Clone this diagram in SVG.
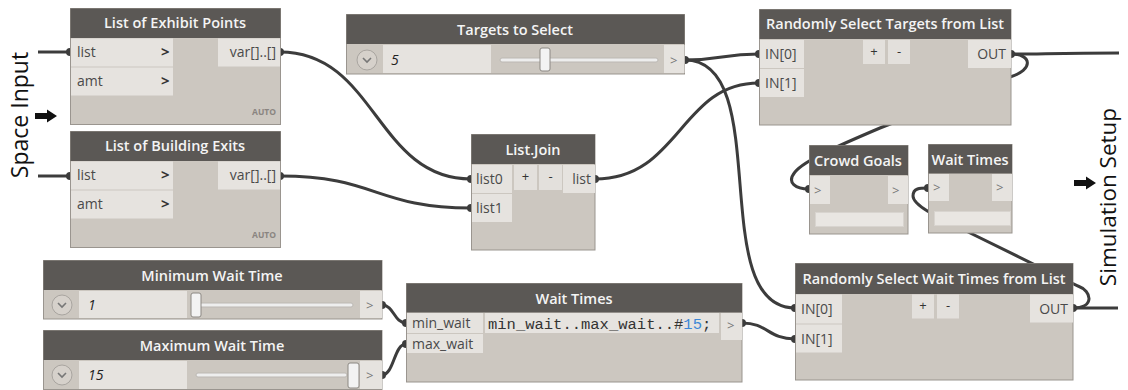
<svg xmlns="http://www.w3.org/2000/svg" width="1128" height="390" viewBox="0 0 1128 390">
<style>
.body{fill:#ccc7c0;stroke:#9a958f;stroke-width:1}
.hdr{fill:#5b5855}
.ttl{font-family:"Open Sans",sans-serif;font-weight:600;font-size:14.5px;fill:#f4f4f4;text-anchor:middle}
.port{fill:#e6e3df}
.pt{font-family:"Open Sans",sans-serif;font-size:14px;fill:#4a4a4a}
.end{text-anchor:end}
.chev{font-family:"Open Sans",sans-serif;font-weight:700;font-size:15px;fill:#333}
.gt{font-family:"Open Sans",sans-serif;font-size:13px;fill:#777}
.btn{fill:#e3e0dc}
.bt{font-family:"Open Sans",sans-serif;font-size:13px;fill:#333;text-anchor:middle}
.auto{font-family:"Open Sans",sans-serif;font-weight:700;font-size:8.5px;fill:#8a8580;text-anchor:end}
.val{font-family:"Open Sans",sans-serif;font-style:italic;font-size:14px;fill:#222}
.dd{fill:#d6d1cb;stroke:#a9a5a0;stroke-width:1}
.ddv{fill:none;stroke:#777;stroke-width:1.6}
.track{fill:#eeeeee;stroke:#bcb8b3;stroke-width:1}
.thumb{fill:#f3f3f3;stroke:#8c8883;stroke-width:1}
.disp{fill:#e9e6e2;stroke:#d8d4cf;stroke-width:1}
.wire{fill:none;stroke:#3c3c3c;stroke-width:3}
.dot{fill:#3c3c3c}
.side{font-family:"Open Sans",sans-serif;font-size:23px;fill:#111;text-anchor:middle}
.code{font-family:"Liberation Mono",monospace;font-size:15.5px;fill:#333}
</style>

<g id="connectors">
  <path class="wire" d="M38,52 L70,52"/>
  <path class="wire" d="M38,176 L70,176"/>
  <path class="wire" d="M280,52 C376,52 376,179 471,179"/>
  <path class="wire" d="M280,176 C376,176 376,208 471,208"/>
  <path class="wire" d="M595,179 C680,179 680,83 759,83"/>
  <path class="wire" d="M685,60 C722,60 722,54 759,54"/>
  <path class="wire" d="M685,60 C775,60 705,308 795,308"/>
  <path class="wire" d="M382,305 C394,305 394,323 406,323"/>
  <path class="wire" d="M382,375 C394,375 394,344 406,344"/>
  <path class="wire" d="M742,323 C768,323 768,339 795,339"/>
  <path class="wire" d="M1011,54 C1040,54 1060,53 1119,53"/>
  <path class="wire" d="M1011,54 C1032,54 1034,70 1010,77 L880,128 C840,145 805,160 795,172 C786,183 796,189 809,189"/>
  <path class="wire" d="M1073,308 C1095,308 1092,291 1078,286 L962,229 C935,216 913,205 913,196 C913,188 920,188 928,188"/>
  <path class="wire" d="M1073,308 L1118,308"/>
  <g class="dot">
    <circle cx="70" cy="52" r="4"/><circle cx="70" cy="176" r="4"/>
    <circle cx="280" cy="52" r="4"/><circle cx="280" cy="176" r="4"/>
    <circle cx="471" cy="179" r="4"/><circle cx="471" cy="208" r="4"/>
    <circle cx="595" cy="179" r="4"/><circle cx="685" cy="60" r="4"/>
    <circle cx="759" cy="54" r="4"/><circle cx="759" cy="83" r="4"/>
    <circle cx="1011" cy="54" r="4"/><circle cx="809" cy="189" r="4"/>
    <circle cx="928" cy="188" r="4"/><circle cx="382" cy="305" r="4"/>
    <circle cx="382" cy="375" r="4"/><circle cx="406" cy="323" r="4"/>
    <circle cx="406" cy="344" r="4"/><circle cx="742" cy="323" r="4"/>
    <circle cx="795" cy="308" r="4"/><circle cx="795" cy="339" r="4"/>
    <circle cx="1073" cy="308" r="4"/>
  </g>
</g>

<g id="label-space-input">
  <text class="side" transform="translate(28,115) rotate(-90)">Space Input</text>
  <polygon fill="#111" points="35,113 47,113 47,109.5 57,116 47,122.5 47,119 35,119"/>
</g>
<g id="label-simulation-setup">
  <text class="side" style="font-size:22.5px" transform="translate(1116,197) rotate(-90)">Simulation Setup</text>
  <polygon fill="#111" points="1074,180 1086,180 1086,176.5 1096,183 1086,189.5 1086,186 1074,186"/>
</g>

<g id="node-exhibit-points">
  <rect class="body" x="70.5" y="8.5" width="210" height="116"/>
  <rect class="hdr" x="70.5" y="8.5" width="210" height="29.5"/>
  <text class="ttl" x="175" y="28">List of Exhibit Points</text>
  <rect class="port" x="71" y="38.5" width="102" height="28"/>
  <text class="pt" x="77" y="57">list</text><text class="chev" x="161" y="57">&gt;</text>
  <rect class="port" x="71" y="67.5" width="102" height="28"/>
  <text class="pt" x="77" y="86">amt</text><text class="chev" x="161" y="86">&gt;</text>
  <rect class="port" x="218" y="38.5" width="62" height="28"/>
  <text class="pt end" x="276" y="57">var[]..[]</text>
  <text class="auto" x="276" y="115">AUTO</text>
</g>

<g id="node-building-exits">
  <rect class="body" x="70.5" y="131.5" width="210" height="116"/>
  <rect class="hdr" x="70.5" y="131.5" width="210" height="29.5"/>
  <text class="ttl" x="175" y="151">List of Building Exits</text>
  <rect class="port" x="71" y="161.5" width="102" height="28"/>
  <text class="pt" x="77" y="180">list</text><text class="chev" x="161" y="180">&gt;</text>
  <rect class="port" x="71" y="190.5" width="102" height="28"/>
  <text class="pt" x="77" y="209">amt</text><text class="chev" x="161" y="209">&gt;</text>
  <rect class="port" x="218" y="161.5" width="62" height="28"/>
  <text class="pt end" x="276" y="180">var[]..[]</text>
  <text class="auto" x="276" y="238">AUTO</text>
</g>

<g id="node-targets-to-select">
  <rect class="body" x="346.5" y="14.5" width="338" height="59.5"/>
  <rect class="hdr" x="346.5" y="14.5" width="338" height="29.5"/>
  <text class="ttl" x="515" y="35">Targets to Select</text>
  <circle class="dd" cx="367" cy="60" r="10"/>
  <path class="ddv" d="M363,58 L367,62 L371,58"/>
  <rect class="port" x="383" y="45" width="108" height="28"/>
  <text class="val" x="391" y="65">5</text>
  <rect class="track" x="500" y="58" width="158" height="4" rx="2"/>
  <rect class="thumb" x="540" y="48" width="10" height="23" rx="2"/>
  <rect class="port" x="664" y="45" width="20.5" height="28"/>
  <text class="gt" x="670" y="65">&gt;</text>
</g>

<g id="node-list-join">
  <rect class="body" x="471.5" y="134.5" width="123.5" height="115.5"/>
  <rect class="hdr" x="471.5" y="134.5" width="123.5" height="29.5"/>
  <text class="ttl" x="533" y="155">List.Join</text>
  <rect class="port" x="472" y="165" width="40" height="28"/>
  <text class="pt" x="476" y="184">list0</text>
  <rect class="port" x="472" y="194" width="40" height="28"/>
  <text class="pt" x="476" y="213">list1</text>
  <rect class="btn" x="514" y="165" width="23" height="25"/>
  <text class="bt" x="525.5" y="181">+</text>
  <rect class="btn" x="539" y="165" width="23" height="25"/>
  <text class="bt" x="550.5" y="181">-</text>
  <rect class="port" x="563" y="165" width="32" height="28"/>
  <text class="pt end" x="591" y="184">list</text>
</g>

<g id="node-select-targets">
  <rect class="body" x="759.5" y="9.5" width="251.5" height="115.5"/>
  <rect class="hdr" x="759.5" y="9.5" width="251.5" height="29.5"/>
  <text class="ttl" x="885" y="29">Randomly Select Targets from List</text>
  <rect class="port" x="760" y="40" width="44" height="28"/>
  <text class="pt" x="765" y="59">IN[0]</text>
  <rect class="port" x="760" y="69" width="44" height="28"/>
  <text class="pt" x="765" y="88">IN[1]</text>
  <rect class="btn" x="863" y="40" width="22" height="24"/>
  <text class="bt" x="874" y="56">+</text>
  <rect class="btn" x="888" y="40" width="22" height="24"/>
  <text class="bt" x="899" y="56">-</text>
  <rect class="port" x="968" y="40" width="43" height="28"/>
  <text class="pt end" x="1006" y="59">OUT</text>
</g>

<g id="node-crowd-goals">
  <rect class="body" x="809.5" y="145.5" width="98.5" height="88.5"/>
  <rect class="hdr" x="809.5" y="145.5" width="98.5" height="29.5"/>
  <text class="ttl" x="858" y="166">Crowd Goals</text>
  <rect class="port" x="810" y="176" width="20" height="28"/>
  <text class="gt" x="814" y="195">&gt;</text>
  <rect class="port" x="888" y="176" width="20" height="28"/>
  <text class="gt" x="892" y="195">&gt;</text>
  <rect class="disp" x="815.5" y="212.5" width="88" height="14"/>
</g>

<g id="node-wait-times-watch">
  <rect class="body" x="928.5" y="144.5" width="83.5" height="88.5"/>
  <rect class="hdr" x="928.5" y="144.5" width="83.5" height="29"/>
  <text class="ttl" x="970" y="165">Wait Times</text>
  <rect class="port" x="929" y="174" width="20" height="27"/>
  <text class="gt" x="933" y="192">&gt;</text>
  <rect class="port" x="992" y="174" width="20" height="27"/>
  <text class="gt" x="996" y="192">&gt;</text>
  <rect class="disp" x="934.5" y="211.5" width="76" height="14"/>
</g>

<g id="node-minimum-wait-time">
  <rect class="body" x="43.5" y="260.5" width="338.5" height="58.5"/>
  <rect class="hdr" x="43.5" y="260.5" width="338.5" height="29.5"/>
  <text class="ttl" x="212" y="281">Minimum Wait Time</text>
  <circle class="dd" cx="62" cy="305" r="10"/>
  <path class="ddv" d="M58,303 L62,307 L66,303"/>
  <rect class="port" x="79" y="291" width="108" height="27"/>
  <text class="val" x="88" y="310">1</text>
  <rect class="track" x="198" y="303" width="155" height="4" rx="2"/>
  <rect class="thumb" x="191" y="293" width="10" height="24" rx="2"/>
  <rect class="port" x="360" y="291" width="22" height="27"/>
  <text class="gt" x="366" y="310">&gt;</text>
</g>

<g id="node-maximum-wait-time">
  <rect class="body" x="43.5" y="330.5" width="338.5" height="59"/>
  <rect class="hdr" x="43.5" y="330.5" width="338.5" height="29.5"/>
  <text class="ttl" x="212" y="351">Maximum Wait Time</text>
  <circle class="dd" cx="62" cy="375" r="10"/>
  <path class="ddv" d="M58,373 L62,377 L66,373"/>
  <rect class="port" x="79" y="361" width="108" height="28"/>
  <text class="val" x="88" y="380">15</text>
  <rect class="track" x="196" y="373" width="151" height="4" rx="2"/>
  <rect class="thumb" x="348" y="363" width="11" height="25" rx="2"/>
  <rect class="port" x="360" y="361" width="22" height="28"/>
  <text class="gt" x="366" y="380">&gt;</text>
</g>

<g id="node-wait-times-code">
  <rect class="body" x="406.5" y="283.5" width="335.5" height="98.5"/>
  <rect class="hdr" x="406.5" y="283.5" width="335.5" height="29"/>
  <text class="ttl" x="574" y="304">Wait Times</text>
  <rect class="port" x="407" y="313" width="76" height="20"/>
  <text class="pt" x="412" y="328">min_wait</text>
  <rect class="port" x="407" y="334" width="76" height="19"/>
  <text class="pt" x="412" y="349">max_wait</text>
  <rect class="port" x="485" y="313" width="234" height="20"/>
  <text class="code" x="488" y="329">min_wait..max_wait..#<tspan fill="#3b87d6">15</tspan>;</text>
  <rect class="port" x="721" y="313" width="21" height="27"/>
  <text class="gt" x="727" y="330">&gt;</text>
</g>

<g id="node-select-wait-times">
  <rect class="body" x="795.5" y="263.5" width="277.5" height="116.5"/>
  <rect class="hdr" x="795.5" y="263.5" width="277.5" height="30.5"/>
  <text class="ttl" x="934" y="284">Randomly Select Wait Times from List</text>
  <rect class="port" x="796" y="294.5" width="46" height="29"/>
  <text class="pt" x="801" y="314">IN[0]</text>
  <rect class="port" x="796" y="324.5" width="46" height="28"/>
  <text class="pt" x="801" y="344">IN[1]</text>
  <rect class="btn" x="912" y="294.5" width="22" height="24"/>
  <text class="bt" x="923" y="310">+</text>
  <rect class="btn" x="937" y="294.5" width="22" height="24"/>
  <text class="bt" x="948" y="310">-</text>
  <rect class="port" x="1030" y="294.5" width="43" height="28"/>
  <text class="pt end" x="1068" y="314">OUT</text>
</g>
</svg>
